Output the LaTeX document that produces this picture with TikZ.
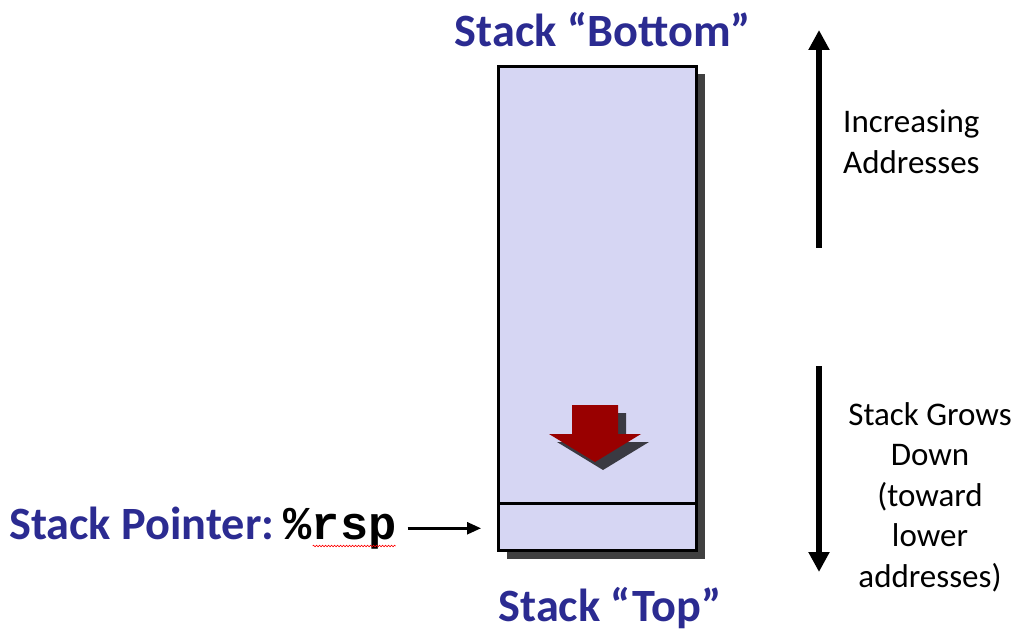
\documentclass[tikz,border=0pt]{standalone}
\usepackage{fontspec}
\setmainfont{Carlito}
\newfontfamily\monofont{Liberation Mono}
\usetikzlibrary{arrows.meta,shadows,decorations.pathmorphing}
\definecolor{stackfill}{RGB}{214,214,243}
\definecolor{titleblue}{RGB}{43,43,145}
\definecolor{shadowgray}{RGB}{64,64,64}
\definecolor{arrowshadow}{RGB}{58,58,66}
\definecolor{arrowred}{RGB}{153,0,0}
\begin{document}
\begin{tikzpicture}[x=1pt,y=-1pt,
  cellbox/.style={draw=black, line width=3pt, fill=stackfill, inner sep=0pt, minimum width=198pt},
  titletext/.style={text=titleblue, font=\fontsize{46.3}{54}\selectfont\bfseries, inner sep=0pt},
  sidetext/.style={text=black, font=\fontsize{33}{40.6}\selectfont, inner sep=0pt},
  thickarrow/.style={line width=6pt, -{Triangle[length=20pt,width=20pt]}},
]
\useasboundingbox (0,0) rectangle (1025,636);
% stack body
\node (stack) [cellbox, minimum height=484pt, anchor=north west,
  drop shadow={shadow xshift=8pt, shadow yshift=-8pt, fill=shadowgray, opacity=1}] at (497,65) {};
\node (topcell) [cellbox, minimum height=47pt, anchor=south west] at (stack.south west) {};
% red growth arrow
\fill[arrowshadow] (580,413) -- (626,413) -- (626,442) -- (649,442) -- (603,470) -- (557,442) -- (580,442) -- cycle;
\fill[arrowred] (572,405) -- (618,405) -- (618,434) -- (641,434) -- (595,462) -- (549,434) -- (572,434) -- cycle;
% labels
\node (bottomlbl) [titletext, anchor=base] at (603,47) {Stack “Bottom”};
\node (toplbl) [titletext, anchor=base] at (610,621) {Stack “Top”};
\node (splbl) [titletext, anchor=base west] at (9,539) {Stack Pointer:};
\node (rsp) [anchor=base west, inner sep=0pt, font=\fontsize{47}{54}\selectfont\monofont\bfseries] at ([xshift=9pt]splbl.base east) {\%rsp};
\draw[red, line width=0.6pt, decorate, decoration={snake, amplitude=0.8pt, segment length=3pt}]
  ([xshift=-84pt,yshift=-7pt]rsp.base east) -- ([xshift=-1pt,yshift=-7pt]rsp.base east);
\coordinate (rspout) at ([xshift=11pt]rsp.east);
\draw[line width=2.5pt, -{Triangle[length=14pt,width=12pt]}, shorten >=16pt] (rspout) -- (rspout -| topcell.west);
% right side arrows and text
\coordinate (upbase) at (819,248);
\coordinate (uptip) at (819,30);
\draw[thickarrow] (upbase) -- (uptip);
\coordinate (downbase) at (819,366);
\coordinate (downtip) at (819,572);
\draw[thickarrow] (downbase) -- (downtip);
\node (inclbl) [sidetext, anchor=north west, align=left] at (843,110) {Increasing\\Addresses};
\node (growlbl) [sidetext, anchor=north, align=center] at (930,402) {Stack Grows\\Down\\(toward\\lower\\addresses)};
\end{tikzpicture}
\end{document}
